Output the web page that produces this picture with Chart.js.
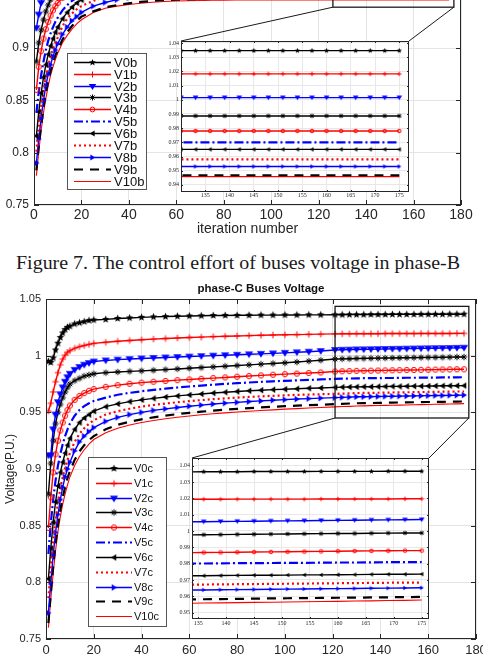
<!DOCTYPE html>
<html>
<head>
<meta charset="utf-8">
<script src="https://cdn.jsdelivr.net/npm/chart.js@4.4.0/dist/chart.umd.min.js"></script>
<style>
  html, body { margin: 0; padding: 0; background: #fff; }
  body { width: 483px; height: 661px; overflow: hidden; position: relative; }
  canvas { position: absolute; }
  #caption {
    position: absolute; left: 16px; top: 254px; line-height: 19px;
    font-family: "Liberation Serif", "Times New Roman", serif; font-size: 18px;
    color: #1a1a1a; white-space: nowrap; transform-origin: 0 0;
  }
</style>
</head>
<body>
<canvas id="mainB"></canvas>
<canvas id="insetB"></canvas>
<div id="caption">Figure 7. The control effort of buses voltage in phase-B</div>
<canvas id="mainC"></canvas>
<canvas id="insetC"></canvas>
<script>
// iteration numbers where the curves were read
const iterations = [1, 2, 3, 4, 5, 6, 7, 8, 9, 10,
    12, 14, 16, 18, 20,
    25, 30, 35, 40, 45, 50, 55, 60, 65, 70, 75, 80, 85, 90, 95, 100, 105, 110, 115,
    121, 124, 127, 130, 133, 136, 139, 142, 145, 148, 151, 154, 157, 160, 163, 166, 169, 172, 175];

const busNames = ['V0', 'V1', 'V2', 'V3', 'V4', 'V5', 'V6', 'V7', 'V8', 'V9', 'V10'];

const mainXTicks = [0, 20, 40, 60, 80, 100, 120, 140, 160, 180];
const mainYTicks = [0.75, 0.8, 0.85, 0.9, 0.95, 1, 1.05];
const insetXTicks = [135, 140, 145, 150, 155, 160, 165, 170, 175];
const insetBYTicks = [0.94, 0.95, 0.96, 0.97, 0.98, 0.99, 1, 1.01, 1.02, 1.03, 1.04];
const insetCYTicks = [0.95, 0.96, 0.97, 0.98, 0.99, 1, 1.01, 1.02, 1.03, 1.04];

// phase-B bus voltages
const V0b = [0.998, 0.997, 1.003, 1.010, 1.016, 1.020, 1.023, 1.026, 1.028, 1.029,
    1.0305, 1.0315, 1.032, 1.0325, 1.033,
    1.0335, 1.034, 1.0342, 1.0344, 1.0345, 1.0345, 1.0346, 1.0346, 1.0346, 1.0346, 1.0346, 1.0346, 1.0346, 1.0346, 1.0346, 1.0346, 1.0346, 1.0346, 1.0346,
    1.0346, 1.0346, 1.0346, 1.0346, 1.0346, 1.0346, 1.0346, 1.0346, 1.0346, 1.0346, 1.0346, 1.0346, 1.0346, 1.0346, 1.0346, 1.0346, 1.0346, 1.0346, 1.0346];
const V1b = [0.958, 0.968, 0.978, 0.987, 0.994, 0.999, 1.003, 1.006, 1.008, 1.010,
    1.012, 1.0135, 1.0145, 1.0153, 1.016,
    1.0168, 1.0173, 1.0176, 1.0178, 1.0179, 1.018, 1.018, 1.0181, 1.0181, 1.0181, 1.0182, 1.0182, 1.0182, 1.0182, 1.0182, 1.0182, 1.0182, 1.0182, 1.0182,
    1.0182, 1.0182, 1.0182, 1.0182, 1.0182, 1.0182, 1.0182, 1.0182, 1.0182, 1.0182, 1.0182, 1.0182, 1.0182, 1.0182, 1.0182, 1.0182, 1.0182, 1.0182, 1.0182];
const V2b = [0.919, 0.932, 0.943, 0.955, 0.966, 0.974, 0.980, 0.985, 0.988, 0.991,
    0.9935, 0.9955, 0.997, 0.998, 0.9988,
    0.9995, 1.0003, 1.0007, 1.001, 1.0012, 1.0013, 1.0014, 1.0014, 1.0015, 1.0015, 1.0015, 1.0015, 1.0015, 1.0015, 1.0015, 1.0015, 1.0015, 1.0015, 1.0015,
    1.0015, 1.0015, 1.0015, 1.0015, 1.0015, 1.0015, 1.0015, 1.0015, 1.0015, 1.0015, 1.0015, 1.0015, 1.0015, 1.0015, 1.0015, 1.0015, 1.0015, 1.0015, 1.0015];
const V3b = [0.887, 0.905, 0.917, 0.927, 0.935, 0.941, 0.946, 0.951, 0.955, 0.959,
    0.965, 0.970, 0.974, 0.977, 0.979,
    0.9825, 0.9848, 0.986, 0.9868, 0.9874, 0.9878, 0.988, 0.9882, 0.9883, 0.9884, 0.9885, 0.9885, 0.9886, 0.9886, 0.9886, 0.9886, 0.9886, 0.9886, 0.9886,
    0.9886, 0.9886, 0.9886, 0.9886, 0.9886, 0.9886, 0.9886, 0.9886, 0.9886, 0.9886, 0.9886, 0.9886, 0.9886, 0.9886, 0.9886, 0.9886, 0.9886, 0.9886, 0.9886];
const V4b = [0.860, 0.882, 0.897, 0.909, 0.918, 0.925, 0.931, 0.936, 0.940, 0.943,
    0.948, 0.953, 0.957, 0.960, 0.9625,
    0.967, 0.970, 0.972, 0.9735, 0.9748, 0.9757, 0.9764, 0.9769, 0.9773, 0.9776, 0.9778, 0.9779, 0.978, 0.978, 0.978, 0.978, 0.978, 0.978, 0.978,
    0.978, 0.978, 0.978, 0.978, 0.978, 0.978, 0.978, 0.978, 0.978, 0.978, 0.978, 0.978, 0.978, 0.978, 0.978, 0.978, 0.978, 0.978, 0.978];
const V5b = [0.838, 0.858, 0.874, 0.887, 0.898, 0.907, 0.914, 0.920, 0.925, 0.929,
    0.936, 0.941, 0.945, 0.948, 0.951,
    0.956, 0.960, 0.9625, 0.9645, 0.966, 0.9672, 0.9681, 0.9688, 0.9693, 0.9697, 0.9699, 0.97, 0.97, 0.97, 0.97, 0.97, 0.97, 0.97, 0.97,
    0.97, 0.97, 0.97, 0.97, 0.97, 0.97, 0.97, 0.97, 0.97, 0.97, 0.97, 0.97, 0.97, 0.97, 0.97, 0.97, 0.97, 0.97, 0.97];
const V6b = [0.816, 0.839, 0.857, 0.872, 0.884, 0.894, 0.902, 0.909, 0.915, 0.920,
    0.928, 0.934, 0.939, 0.943, 0.946,
    0.951, 0.9545, 0.957, 0.959, 0.9605, 0.9617, 0.9626, 0.9633, 0.9638, 0.9642, 0.9645, 0.9647, 0.9648, 0.9649, 0.965, 0.965, 0.965, 0.965, 0.965,
    0.965, 0.965, 0.965, 0.965, 0.965, 0.965, 0.965, 0.965, 0.965, 0.965, 0.965, 0.965, 0.965, 0.965, 0.965, 0.965, 0.965, 0.965, 0.965];
const V7b = [0.801, 0.824, 0.843, 0.859, 0.872, 0.883, 0.892, 0.899, 0.905, 0.910,
    0.921, 0.928, 0.933, 0.937, 0.940,
    0.945, 0.949, 0.9515, 0.9532, 0.9546, 0.9556, 0.9563, 0.9569, 0.9573, 0.9576, 0.9578, 0.9579, 0.958, 0.958, 0.958, 0.958, 0.958, 0.958, 0.958,
    0.958, 0.958, 0.958, 0.958, 0.958, 0.958, 0.958, 0.958, 0.958, 0.958, 0.958, 0.958, 0.958, 0.958, 0.958, 0.958, 0.958, 0.958, 0.958];
const V8b = [0.790, 0.813, 0.833, 0.850, 0.864, 0.875, 0.884, 0.892, 0.898, 0.904,
    0.913, 0.920, 0.926, 0.930, 0.934,
    0.940, 0.9435, 0.9462, 0.9482, 0.9497, 0.9508, 0.9516, 0.9522, 0.9526, 0.9528, 0.953, 0.953, 0.953, 0.953, 0.953, 0.953, 0.953, 0.953, 0.953,
    0.953, 0.953, 0.953, 0.953, 0.953, 0.953, 0.953, 0.953, 0.953, 0.953, 0.953, 0.953, 0.953, 0.953, 0.953, 0.953, 0.953, 0.953, 0.953];
const V9b = [0.783, 0.806, 0.826, 0.843, 0.857, 0.869, 0.878, 0.886, 0.893, 0.898,
    0.908, 0.915, 0.921, 0.926, 0.930,
    0.935, 0.9388, 0.941, 0.9427, 0.944, 0.945, 0.9457, 0.9462, 0.9465, 0.9467, 0.9468, 0.9468, 0.9468, 0.9468, 0.9468, 0.9468, 0.9468, 0.9468, 0.9468,
    0.9468, 0.9468, 0.9468, 0.9468, 0.9468, 0.9468, 0.9468, 0.9468, 0.9468, 0.9468, 0.9468, 0.9468, 0.9468, 0.9468, 0.9468, 0.9468, 0.9468, 0.9468, 0.9468];
const V10b = [0.778, 0.801, 0.821, 0.838, 0.852, 0.864, 0.874, 0.882, 0.889, 0.895,
    0.905, 0.912, 0.918, 0.923, 0.927,
    0.934, 0.938, 0.940, 0.9415, 0.9428, 0.9437, 0.9444, 0.9449, 0.9452, 0.9454, 0.9456, 0.9457, 0.9458, 0.9458, 0.9458, 0.9458, 0.9458, 0.9458, 0.9458,
    0.9458, 0.9458, 0.9458, 0.9458, 0.9458, 0.9458, 0.9458, 0.9458, 0.9458, 0.9458, 0.9458, 0.9458, 0.9458, 0.9458, 0.9458, 0.9458, 0.9458, 0.9458, 0.9458];

// phase-C bus voltages
const V0c = [0.995, 0.994, 0.998, 1.005, 1.011, 1.016, 1.020, 1.023, 1.025, 1.026,
    1.028, 1.029, 1.030, 1.031, 1.0315,
    1.032, 1.0328, 1.0333, 1.0338, 1.0342, 1.0345, 1.0348, 1.035, 1.0352, 1.0354, 1.0355, 1.0356, 1.0357, 1.0358, 1.0358, 1.0359, 1.0359, 1.036, 1.036,
    1.0361, 1.0361, 1.0362, 1.0362, 1.0362, 1.0363, 1.0363, 1.0363, 1.0364, 1.0364, 1.0364, 1.0364, 1.0365, 1.0365, 1.0365, 1.0365, 1.0366, 1.0366, 1.0366];
const V1c = [0.951, 0.958, 0.968, 0.977, 0.985, 0.992, 0.997, 1.0005, 1.003, 1.0045,
    1.0065, 1.008, 1.009, 1.010, 1.0108,
    1.0118, 1.0127, 1.0134, 1.014, 1.0146, 1.0151, 1.0156, 1.016, 1.0164, 1.0168, 1.0171, 1.0174, 1.0177, 1.018, 1.0182, 1.0184, 1.0186, 1.0188, 1.019,
    1.0192, 1.0193, 1.0193, 1.0194, 1.0194, 1.0194, 1.0194, 1.0195, 1.0195, 1.0195, 1.0195, 1.0195, 1.0196, 1.0196, 1.0196, 1.0196, 1.0196, 1.0197, 1.0197];
const V2c = [0.912, 0.912, 0.935, 0.948, 0.959, 0.966, 0.972, 0.977, 0.981, 0.984,
    0.9875, 0.990, 0.992, 0.9935, 0.9948,
    0.9958, 0.9965, 0.997, 0.9975, 0.998, 0.9984, 0.9988, 0.9992, 0.9996, 1.0, 1.0004, 1.0008, 1.0012, 1.0016, 1.002, 1.0025, 1.003, 1.0035, 1.0041,
    1.0050, 1.0052, 1.0053, 1.0055, 1.0056, 1.0057, 1.0058, 1.0059, 1.0060, 1.0061, 1.0062, 1.0063, 1.0064, 1.0065, 1.0066, 1.0067, 1.0068, 1.0069, 1.0070];
const V3c = [0.878, 0.905, 0.925, 0.940, 0.950, 0.957, 0.963, 0.968, 0.972, 0.975,
    0.978, 0.980, 0.982, 0.983, 0.984,
    0.985, 0.9856, 0.9861, 0.9866, 0.9871, 0.9877, 0.9883, 0.9889, 0.9895, 0.9901, 0.9907, 0.9913, 0.9919, 0.9925, 0.9931, 0.9937, 0.9944, 0.9952, 0.996,
    0.9970, 0.9972, 0.9973, 0.9975, 0.9976, 0.9977, 0.9978, 0.9979, 0.9980, 0.9981, 0.9982, 0.9983, 0.9984, 0.9985, 0.9985, 0.9986, 0.9987, 0.9988, 0.9988];
const V4c = [0.848, 0.875, 0.897, 0.913, 0.925, 0.934, 0.941, 0.947, 0.952, 0.956,
    0.961, 0.9645, 0.967, 0.969, 0.9705,
    0.9725, 0.974, 0.9752, 0.9762, 0.977, 0.9777, 0.9784, 0.979, 0.9796, 0.9802, 0.9808, 0.9814, 0.982, 0.9826, 0.9832, 0.9837, 0.9842, 0.9847, 0.9852,
    0.9860, 0.9862, 0.9864, 0.9866, 0.9867, 0.9868, 0.9869, 0.9870, 0.9871, 0.9872, 0.9873, 0.9874, 0.9875, 0.9876, 0.9877, 0.9878, 0.9879, 0.9880, 0.9880];
const V5c = [0.825, 0.852, 0.873, 0.890, 0.903, 0.913, 0.922, 0.929, 0.935, 0.940,
    0.947, 0.952, 0.9555, 0.958, 0.960,
    0.963, 0.9655, 0.9672, 0.9686, 0.9698, 0.9709, 0.9719, 0.9728, 0.9736, 0.9744, 0.9751, 0.9757, 0.9763, 0.9769, 0.9774, 0.9778, 0.9782, 0.9786, 0.979,
    0.9795, 0.9797, 0.9798, 0.9800, 0.9801, 0.9801, 0.9802, 0.9803, 0.9803, 0.9804, 0.9805, 0.9805, 0.9806, 0.9807, 0.9807, 0.9808, 0.9809, 0.9809, 0.9810];
const V6c = [0.803, 0.830, 0.853, 0.871, 0.885, 0.897, 0.906, 0.914, 0.921, 0.927,
    0.935, 0.941, 0.945, 0.948, 0.951,
    0.955, 0.9575, 0.9595, 0.961, 0.9623, 0.9635, 0.9645, 0.9654, 0.9662, 0.967, 0.9677, 0.9684, 0.969, 0.9695, 0.97, 0.9704, 0.9708, 0.9712, 0.9715,
    0.9720, 0.9722, 0.9723, 0.9725, 0.9726, 0.9726, 0.9727, 0.9728, 0.9729, 0.9729, 0.9730, 0.9731, 0.9731, 0.9732, 0.9733, 0.9734, 0.9735, 0.9735, 0.9736];
const V7c = [0.786, 0.812, 0.836, 0.855, 0.870, 0.883, 0.893, 0.901, 0.908, 0.914,
    0.924, 0.931, 0.936, 0.940, 0.943,
    0.948, 0.951, 0.9532, 0.955, 0.9565, 0.9578, 0.9589, 0.9599, 0.9608, 0.9616, 0.9623, 0.963, 0.9636, 0.9641, 0.9646, 0.965, 0.9654, 0.9657, 0.966,
    0.9663, 0.9665, 0.9667, 0.9670, 0.9671, 0.9672, 0.9673, 0.9674, 0.9675, 0.9676, 0.9677, 0.9678, 0.9679, 0.9680, 0.9681, 0.9682, 0.9683, 0.9684, 0.9684];
const V8c = [0.773, 0.800, 0.824, 0.844, 0.860, 0.873, 0.884, 0.893, 0.900, 0.906,
    0.916, 0.924, 0.929, 0.933, 0.9365,
    0.942, 0.9455, 0.948, 0.95, 0.9517, 0.9531, 0.9543, 0.9554, 0.9564, 0.9573, 0.9581, 0.9588, 0.9595, 0.9601, 0.9607, 0.9612, 0.9617, 0.9621, 0.9625,
    0.9630, 0.9632, 0.9634, 0.9637, 0.9638, 0.9639, 0.9640, 0.9641, 0.9642, 0.9643, 0.9644, 0.9645, 0.9646, 0.9647, 0.9648, 0.9649, 0.9650, 0.9651, 0.9652];
const V9c = [0.764, 0.790, 0.814, 0.834, 0.851, 0.864, 0.875, 0.884, 0.892, 0.898,
    0.908, 0.9155, 0.921, 0.9255, 0.929,
    0.935, 0.939, 0.9417, 0.9438, 0.9456, 0.9471, 0.9484, 0.9496, 0.9506, 0.9515, 0.9523, 0.953, 0.9537, 0.9543, 0.9549, 0.9554, 0.9559, 0.9563, 0.9567,
    0.9573, 0.9575, 0.9578, 0.9580, 0.9581, 0.9582, 0.9583, 0.9584, 0.9586, 0.9587, 0.9588, 0.9589, 0.9590, 0.9591, 0.9592, 0.9593, 0.9594, 0.9595, 0.9596];
const V10c = [0.760, 0.785, 0.808, 0.828, 0.845, 0.858, 0.869, 0.878, 0.886, 0.893,
    0.903, 0.911, 0.917, 0.922, 0.926,
    0.932, 0.936, 0.9388, 0.941, 0.9428, 0.9443, 0.9456, 0.9468, 0.9478, 0.9487, 0.9495, 0.9503, 0.951, 0.9516, 0.9522, 0.9528, 0.9533, 0.9538, 0.9542,
    0.9548, 0.9551, 0.9553, 0.9556, 0.9557, 0.9559, 0.9560, 0.9561, 0.9563, 0.9564, 0.9565, 0.9567, 0.9568, 0.9569, 0.9571, 0.9572, 0.9574, 0.9575, 0.9577];

const phaseB = [V0b, V1b, V2b, V3b, V4b, V5b, V6b, V7b, V8b, V9b, V10b];
const phaseC = [V0c, V1c, V2c, V3c, V4c, V5c, V6c, V7c, V8c, V9c, V10c];

// line look for each bus (same in both phases)
const seriesStyle = [
    { color: '#000000', marker: 'pent', grow: 1.2, dash: [], width: 1.4 },
    { color: '#ff0000', marker: 'plus', grow: 1, dash: [], width: 1.4 },
    { color: '#0000ff', marker: 'triDown', grow: 1.25, dash: [], width: 1.4 },
    { color: '#000000', marker: 'asterisk', grow: 1, dash: [], width: 1.4 },
    { color: '#ff0000', marker: 'circle', grow: 1, dash: [], width: 1.4 },
    { color: '#0000ff', marker: null, grow: 1, dash: [9, 3, 2, 3], width: 2.2 },
    { color: '#000000', marker: 'triLeft', grow: 1, dash: [], width: 1.4 },
    { color: '#ff0000', marker: null, grow: 1, dash: [2, 3], width: 2.2 },
    { color: '#0000ff', marker: 'triRight', grow: 1, dash: [], width: 1.4 },
    { color: '#000000', marker: null, grow: 1, dash: [9, 7], width: 2.2 },
    { color: '#ff0000', marker: null, grow: 1, dash: [], width: 1.1 }
];

const axisColor = '#262626';
const gridColor = '#e4e4e4';
const sans = '"Liberation Sans", Arial, sans-serif';
const serif = '"Liberation Serif", "Times New Roman", serif';

// small marker images, drawn like matlab markers
function makeMarker(shape, color, size) {
    const s = Math.ceil(size) + 3;
    const c = document.createElement('canvas');
    c.width = s;
    c.height = s;
    const g = c.getContext('2d');
    const m = s / 2, r = size / 2;
    g.fillStyle = color;
    g.strokeStyle = color;
    g.lineWidth = 1;
    g.beginPath();
    if (shape === 'pent') {
        for (let k = 0; k < 10; k++) {
            const a = -Math.PI / 2 + k * Math.PI / 5;
            const rr = k % 2 ? r * 0.45 : r;
            g.lineTo(m + rr * Math.cos(a), m + rr * Math.sin(a));
        }
        g.closePath();
        g.fill();
    } else if (shape === 'plus' || shape === 'asterisk') {
        g.moveTo(m - r, m); g.lineTo(m + r, m);
        g.moveTo(m, m - r); g.lineTo(m, m + r);
        if (shape === 'asterisk') {
            const d = r * 0.7;
            g.moveTo(m - d, m - d); g.lineTo(m + d, m + d);
            g.moveTo(m - d, m + d); g.lineTo(m + d, m - d);
        }
        g.stroke();
    } else if (shape === 'circle') {
        g.arc(m, m, r * 0.8, 0, 2 * Math.PI);
        g.stroke();
    } else if (shape === 'triDown') {
        g.moveTo(m - r, m - r * 0.7); g.lineTo(m + r, m - r * 0.7); g.lineTo(m, m + r * 0.9);
        g.closePath(); g.fill();
    } else if (shape === 'triLeft') {
        g.moveTo(m + r * 0.7, m - r); g.lineTo(m + r * 0.7, m + r); g.lineTo(m - r * 0.9, m);
        g.closePath(); g.fill();
    } else if (shape === 'triRight') {
        g.moveTo(m - r * 0.7, m - r); g.lineTo(m - r * 0.7, m + r); g.lineTo(m + r * 0.9, m);
        g.closePath(); g.fill();
    }
    return c;
}

function buildDatasets(series, suffix, markerSize, legendSize, fromX) {
    return series.map((vals, i) => {
        const st = seriesStyle[i];
        const pts = [];
        iterations.forEach((x, k) => {
            if (x >= fromX) pts.push({ x: x, y: vals[k] });
        });
        return {
            label: busNames[i] + suffix,
            data: pts,
            borderColor: st.color,
            backgroundColor: st.color,
            borderWidth: st.width,
            borderDash: st.dash,
            pointStyle: st.marker ? makeMarker(st.marker, st.color, markerSize * st.grow) : 'circle',
            pointRadius: st.marker ? 3 : 0,
            pointHoverRadius: 0,
            legendMarker: st.marker && legendSize ? makeMarker(st.marker, st.color, legendSize * st.grow) : null,
            tension: 0,
            clip: 0
        };
    });
}

const fmtTick = v => String(Math.round(v * 1000) / 1000);

// frame round the plot with inward ticks, like a matlab axes box
const framePlugin = {
    id: 'frame',
    beforeDraw(chart, args, o) {
        if (!o.fill) return;
        const a = chart.chartArea;
        chart.ctx.fillStyle = '#ffffff';
        chart.ctx.fillRect(a.left, a.top, a.right - a.left, a.bottom - a.top);
    },
    afterDatasetsDraw(chart, args, o) {
        const a = chart.chartArea, ctx = chart.ctx, len = o.tick;
        ctx.save();
        ctx.strokeStyle = axisColor;
        ctx.lineWidth = 1;
        ctx.beginPath();
        chart.scales.x.ticks.forEach(t => {
            const px = Math.round(chart.scales.x.getPixelForValue(t.value)) + 0.5;
            ctx.moveTo(px, a.bottom); ctx.lineTo(px, a.bottom - len);
            ctx.moveTo(px, a.top); ctx.lineTo(px, a.top + len);
        });
        chart.scales.y.ticks.forEach(t => {
            const py = Math.round(chart.scales.y.getPixelForValue(t.value)) + 0.5;
            ctx.moveTo(a.left, py); ctx.lineTo(a.left + len, py);
            ctx.moveTo(a.right, py); ctx.lineTo(a.right - len, py);
        });
        ctx.stroke();
        ctx.strokeRect(a.left + 0.5, a.top + 0.5, a.right - a.left - 1, a.bottom - a.top - 1);
        ctx.restore();
    }
};

// zoom rectangle and the two lines going to the inset
const zoomPlugin = {
    id: 'zoomBox',
    afterDraw(chart, args, o) {
        const ctx = chart.ctx, xs = chart.scales.x, ys = chart.scales.y;
        const l = xs.getPixelForValue(o.x0), r = xs.getPixelForValue(o.x1);
        const t = ys.getPixelForValue(o.y1), b = ys.getPixelForValue(o.y0);
        ctx.save();
        ctx.strokeStyle = '#1a1a1a';
        ctx.lineWidth = 1.3;
        ctx.strokeRect(l, t, r - l, b - t);
        ctx.lineWidth = 1;
        ctx.beginPath();
        ctx.moveTo(l, b); ctx.lineTo(o.to[0][0], o.to[0][1]);
        ctx.moveTo(r, b); ctx.lineTo(o.to[1][0], o.to[1][1]);
        ctx.stroke();
        ctx.restore();
    }
};

// legend box inside the axes
const legendPlugin = {
    id: 'boxLegend',
    afterDraw(chart, args, o) {
        const ctx = chart.ctx;
        ctx.save();
        ctx.fillStyle = '#ffffff';
        ctx.fillRect(o.x, o.y, o.w, o.h);
        ctx.strokeStyle = '#555';
        ctx.lineWidth = 1;
        ctx.strokeRect(o.x + 0.5, o.y + 0.5, o.w, o.h);
        chart.data.datasets.forEach((ds, i) => {
            const y = Math.round(o.y + o.first + i * o.row) + 0.5;
            ctx.strokeStyle = ds.borderColor;
            ctx.lineWidth = ds.borderWidth;
            ctx.setLineDash(ds.borderDash);
            ctx.beginPath();
            ctx.moveTo(o.x + o.l0, y);
            ctx.lineTo(o.x + o.l1, y);
            ctx.stroke();
            ctx.setLineDash([]);
            if (ds.legendMarker) {
                const mk = ds.legendMarker;
                ctx.drawImage(mk, o.x + (o.l0 + o.l1) / 2 - mk.width / 2, y - mk.height / 2);
            }
            ctx.fillStyle = '#111';
            ctx.font = o.font;
            ctx.textBaseline = 'middle';
            ctx.fillText(ds.label, o.x + o.tx, y + 0.5);
        });
        ctx.restore();
    }
};

const titlePlugin = {
    id: 'plotTitle',
    afterDraw(chart, args, o) {
        const ctx = chart.ctx;
        ctx.save();
        ctx.font = o.font;
        ctx.fillStyle = '#111';
        ctx.textAlign = 'center';
        ctx.textBaseline = 'middle';
        ctx.fillText(o.text, o.x, o.y);
        ctx.restore();
    }
};

// build one axes; box = canvas rect on page, plot = wanted plot rect on page
function makeChart(id, box, plot, axisW, axisH, s) {
    const cv = document.getElementById(id);
    cv.width = box.w;
    cv.height = box.h;
    cv.style.left = box.l + 'px';
    cv.style.top = box.t + 'px';
    cv.style.width = box.w + 'px';
    cv.style.height = box.h + 'px';
    const padding = {
        left: plot.l - box.l - axisW,
        top: plot.t - box.t,
        right: box.l + box.w - plot.r,
        bottom: box.t + box.h - plot.b - axisH
    };
    return new Chart(cv.getContext('2d'), {
        type: 'line',
        data: { datasets: s.datasets },
        options: {
            responsive: false,
            animation: false,
            devicePixelRatio: 1,
            events: [],
            layout: { padding: padding },
            plugins: Object.assign({
                legend: { display: false },
                tooltip: { enabled: false }
            }, s.plugins),
            scales: {
                x: {
                    type: 'linear',
                    min: s.xMin,
                    max: s.xMax,
                    afterBuildTicks: a => { a.ticks = s.xTicks.map(v => ({ value: v })); },
                    afterFit: a => { a.height = axisH; },
                    grid: { color: s.grid || gridColor, drawTicks: false },
                    border: { display: false },
                    ticks: { font: s.xFont, color: axisColor, padding: s.xPad, maxRotation: 0, autoSkip: false, callback: fmtTick },
                    title: s.xTitle || { display: false }
                },
                y: {
                    type: 'linear',
                    min: s.yMin,
                    max: s.yMax,
                    afterBuildTicks: a => { a.ticks = s.yTicks.map(v => ({ value: v })); },
                    afterFit: a => { a.width = axisW; },
                    grid: { color: s.grid || gridColor, drawTicks: false },
                    border: { display: false },
                    ticks: { font: s.yFont, color: axisColor, padding: s.yPad, autoSkip: false, callback: fmtTick },
                    title: s.yTitle || { display: false }
                }
            }
        },
        plugins: s.use
    });
}

// page placement of the insets (plot areas)
const insetBPlot = { l: 181, t: 41, r: 409, b: 192 };
const insetCPlot = { l: 192, t: 458, r: 429, b: 619 };
const mainBBox = { l: 0, t: -130, w: 483, h: 375 };
const mainCBox = { l: 0, t: 275, w: 500, h: 386 };

// phase-B main axes (top part cut by the page)
makeChart('mainB', mainBBox, { l: 34, t: -109, r: 461, b: 205 }, 34, 40, {
    datasets: buildDatasets(phaseB, 'b', 6.5, 6, 0),
    xMin: 0, xMax: 180, yMin: 0.75, yMax: 1.05,
    xTicks: mainXTicks, yTicks: mainYTicks,
    xFont: { family: sans, size: 14 }, yFont: { family: sans, size: 12 },
    xPad: 2, yPad: 5,
    xTitle: { display: true, text: 'iteration number', color: axisColor, font: { family: sans, size: 14 }, padding: { top: 0, bottom: 7.6 } },
    plugins: {
        frame: { tick: 5 },
        zoomBox: { x0: 126, x1: 177, y0: 0.939, y1: 1.045,
            to: [[insetBPlot.l - mainBBox.l, insetBPlot.t - mainBBox.t], [insetBPlot.r - mainBBox.l, insetBPlot.t - mainBBox.t]] },
        boxLegend: { x: 67, y: 183, w: 79, h: 136, first: 8.7, row: 11.93, l0: 7, l1: 44, tx: 47, font: '13px ' + sans }
    },
    use: [framePlugin, zoomPlugin, legendPlugin]
});

// phase-B inset
makeChart('insetB', { l: 156, t: 33, w: 259, h: 172 }, insetBPlot, 25, 13, {
    datasets: buildDatasets(phaseB, 'b', 4.5, 0, 127),
    xMin: 130, xMax: 177, yMin: 0.935, yMax: 1.0414,
    xTicks: insetXTicks, yTicks: insetBYTicks,
    xFont: { family: serif, size: 6 }, yFont: { family: serif, size: 6 },
    xPad: 0, yPad: 2, grid: '#e8e8e8',
    plugins: { frame: { tick: 2, fill: true } },
    use: [framePlugin]
});

// phase-C main axes
makeChart('mainC', mainCBox, { l: 46, t: 299, r: 476, b: 639 }, 46, 22, {
    datasets: buildDatasets(phaseC, 'c', 6.5, 6.5, 0),
    xMin: 0, xMax: 180, yMin: 0.75, yMax: 1.05,
    xTicks: mainXTicks, yTicks: mainYTicks,
    xFont: { family: sans, size: 13 }, yFont: { family: sans, size: 11 },
    xPad: 4, yPad: 5,
    yTitle: { display: true, text: 'Voltage(P.U.)', color: axisColor, font: { family: sans, size: 12 }, padding: { top: 3, bottom: 0 } },
    plugins: {
        frame: { tick: 5 },
        zoomBox: { x0: 121, x1: 177, y0: 0.945, y1: 1.0435,
            to: [[insetCPlot.l - mainCBox.l, insetCPlot.t - mainCBox.t], [insetCPlot.r - mainCBox.l, insetCPlot.t - mainCBox.t]] },
        boxLegend: { x: 88, y: 182, w: 78, h: 169, first: 11, row: 14.83, l0: 8, l1: 44, tx: 46, font: '11px ' + sans },
        plotTitle: { text: 'phase-C Buses Voltage', x: 261, y: 14, font: 'bold 11.5px ' + sans }
    },
    use: [framePlugin, zoomPlugin, legendPlugin, titlePlugin]
});

// phase-C inset
makeChart('insetC', { l: 168, t: 450, w: 267, h: 183 }, insetCPlot, 24, 14, {
    datasets: buildDatasets(phaseC, 'c', 4.5, 0, 130),
    xMin: 133.9, xMax: 176.3, yMin: 0.9461, yMax: 1.0447,
    xTicks: insetXTicks, yTicks: insetCYTicks,
    xFont: { family: serif, size: 6 }, yFont: { family: serif, size: 6 },
    xPad: 1, yPad: 2, grid: '#e8e8e8',
    plugins: { frame: { tick: 2, fill: true } },
    use: [framePlugin]
});

// the caption in the source is printed a little wider than the font
const cap = document.getElementById('caption');
cap.style.transform = 'scaleX(' + (444 / cap.getBoundingClientRect().width) + ')';
</script>
</body>
</html>
